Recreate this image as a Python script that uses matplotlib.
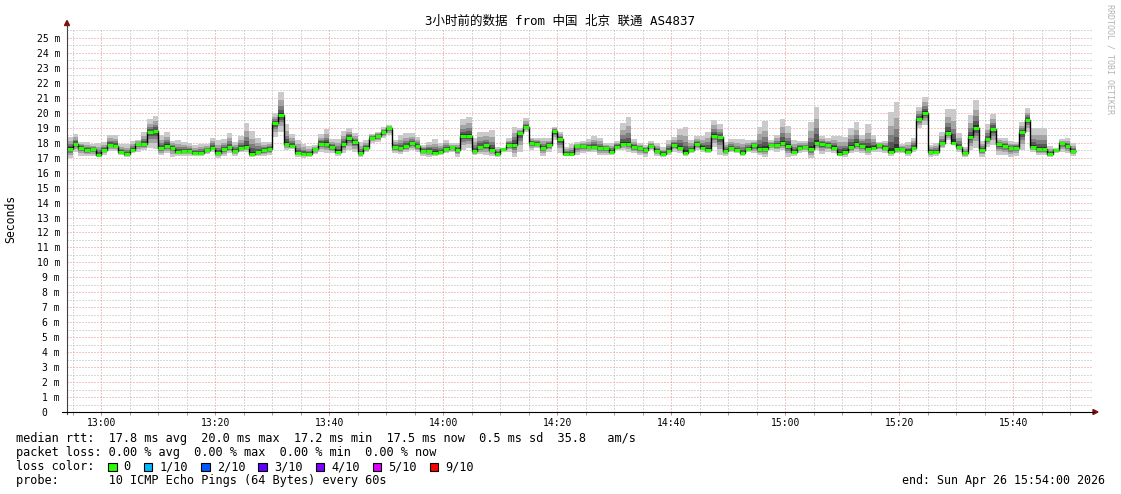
import numpy as np
import matplotlib.pyplot as plt
from matplotlib.lines import Line2D
from matplotlib.patches import Polygon, Rectangle

plt.rcParams['font.family'] = ['DejaVu Sans Mono', 'Noto Sans CJK SC']
plt.rcParams['lines.scale_dashes'] = False

# ---- data (1 sample per minute from 12:54) ----
start_time = "12:54"
time_labels = ["13:00", "13:20", "13:40", "14:00", "14:20",
               "14:40", "15:00", "15:20", "15:40"]

median_ms = [
    17.60, 17.93, 17.67, 17.51, 17.60, 17.20, 17.49, 17.87, 17.80, 17.40,
    17.24, 17.49, 17.89, 17.91, 18.69, 18.78, 17.62, 17.80, 17.67, 17.40,
    17.42, 17.42, 17.33, 17.33, 17.51, 17.67, 17.29, 17.56, 17.71, 17.42,
    17.62, 17.71, 17.24, 17.36, 17.49, 17.58, 19.29, 19.82, 17.93, 17.76,
    17.31, 17.27, 17.24, 17.56, 17.93, 17.93, 17.71, 17.40, 17.89, 18.33,
    18.02, 17.29, 17.62, 18.33, 18.47, 18.69, 18.96, 17.71, 17.62, 17.76,
    17.96, 17.76, 17.47, 17.47, 17.33, 17.40, 17.58, 17.69, 17.53, 18.47,
    18.47, 17.44, 17.71, 17.82, 17.53, 17.27, 17.56, 17.84, 17.84, 18.62,
    19.04, 18.00, 17.93, 17.62, 17.84, 18.76, 18.24, 17.27, 17.24, 17.76,
    17.78, 17.69, 17.69, 17.62, 17.64, 17.38, 17.73, 17.93, 17.89, 17.73,
    17.64, 17.51, 17.78, 17.42, 17.24, 17.47, 17.84, 17.67, 17.33, 17.51,
    17.91, 17.67, 17.51, 18.47, 18.38, 17.42, 17.62, 17.49, 17.31, 17.56,
    17.82, 17.56, 17.56, 17.82, 17.84, 17.98, 17.76, 17.40, 17.67, 17.71,
    17.58, 17.96, 17.91, 17.87, 17.67, 17.27, 17.38, 17.71, 17.91, 17.78,
    17.60, 17.67, 17.87, 17.67, 17.40, 17.58, 17.56, 17.38, 17.67, 19.58,
    20.00, 17.40, 17.40, 17.96, 18.62, 18.00, 17.71, 17.29, 18.36, 19.00,
    17.49, 18.22, 18.91, 17.89, 17.76, 17.62, 17.67, 18.69, 19.49, 17.73,
    17.58, 17.58, 17.24, 17.53, 17.96, 17.78, 17.44,
]

smoke_hi = [
    18.40, 18.58, 18.02, 18.02, 17.89, 17.96, 18.07, 18.51, 18.51, 17.89,
    17.89, 18.13, 18.18, 18.73, 19.56, 19.78, 18.51, 18.73, 18.11, 18.18,
    18.07, 18.00, 17.84, 17.89, 17.89, 18.33, 18.18, 18.24, 18.62, 18.07,
    18.47, 19.33, 18.78, 18.33, 18.07, 18.07, 19.96, 21.40, 19.24, 18.56,
    18.18, 17.91, 17.78, 17.84, 18.56, 18.91, 18.24, 18.24, 18.78, 18.96,
    18.62, 18.02, 18.18, 18.56, 18.73, 19.07, 19.18, 18.18, 18.51, 18.62,
    18.62, 18.40, 17.84, 18.07, 18.24, 17.96, 18.18, 17.96, 17.96, 19.56,
    19.73, 18.33, 18.73, 18.73, 18.84, 17.73, 17.62, 18.29, 19.07, 19.00,
    19.62, 18.33, 18.29, 18.33, 18.29, 19.07, 18.73, 17.73, 17.89, 18.02,
    18.11, 18.24, 18.47, 18.33, 17.96, 17.96, 18.11, 19.33, 19.71, 18.24,
    17.96, 17.84, 18.11, 17.96, 17.69, 18.18, 18.40, 18.91, 19.04, 18.18,
    18.47, 18.47, 18.73, 19.51, 19.22, 18.07, 18.24, 18.24, 18.24, 18.18,
    18.18, 19.07, 19.44, 18.18, 18.51, 19.58, 19.13, 18.18, 18.11, 18.11,
    19.36, 20.40, 18.47, 18.29, 18.47, 18.47, 18.40, 18.96, 19.36, 18.51,
    19.22, 18.51, 18.02, 18.11, 20.02, 20.69, 17.89, 18.07, 18.33, 20.40,
    21.07, 17.84, 17.96, 18.69, 20.24, 20.24, 18.62, 17.73, 19.84, 20.84,
    18.11, 19.22, 19.89, 18.33, 18.29, 18.11, 18.07, 19.36, 20.29, 18.96,
    19.00, 19.00, 17.80, 17.62, 18.24, 18.33, 17.96,
]

smoke_lo = [
    16.96, 17.40, 17.13, 17.09, 17.09, 17.09, 17.18, 17.47, 17.47, 17.18,
    17.04, 17.29, 17.40, 17.51, 17.62, 17.58, 17.18, 17.29, 17.07, 17.13,
    17.13, 17.13, 17.13, 17.13, 17.22, 17.40, 17.00, 17.13, 17.29, 17.13,
    17.40, 17.40, 17.07, 17.13, 17.13, 17.18, 18.40, 18.73, 17.51, 17.58,
    17.07, 17.00, 17.07, 17.22, 17.40, 17.29, 17.29, 17.13, 17.29, 17.51,
    17.40, 17.07, 17.40, 17.96, 18.02, 18.29, 18.51, 17.29, 17.22, 17.40,
    17.51, 17.40, 17.13, 17.07, 17.13, 17.18, 17.29, 17.36, 17.07, 17.51,
    17.62, 17.18, 17.22, 17.18, 17.13, 17.07, 17.40, 17.40, 17.07, 17.40,
    18.73, 17.51, 17.62, 17.13, 17.40, 18.18, 17.29, 17.13, 17.13, 17.18,
    17.29, 17.36, 17.40, 17.18, 17.18, 17.18, 17.51, 17.51, 17.40, 17.29,
    17.18, 17.07, 17.51, 17.13, 17.07, 17.18, 17.40, 17.29, 17.13, 17.29,
    17.51, 17.40, 17.29, 17.73, 17.18, 17.13, 17.40, 17.29, 17.13, 17.40,
    17.29, 17.18, 17.07, 17.51, 17.40, 17.51, 17.07, 17.13, 17.29, 17.40,
    17.00, 17.51, 17.22, 17.40, 17.29, 17.13, 17.07, 17.29, 17.40, 17.29,
    17.18, 17.40, 17.40, 17.29, 17.13, 17.29, 17.29, 17.13, 17.40, 18.96,
    19.18, 17.07, 17.13, 17.62, 18.18, 17.84, 17.40, 17.07, 17.51, 17.62,
    17.07, 17.73, 17.84, 17.18, 17.18, 17.07, 17.13, 17.51, 18.73, 17.40,
    17.18, 17.18, 17.07, 17.29, 17.40, 17.29, 17.13,
]

title = "3小时前的数据 from 中国 北京 联通 AS4837"
stats_lines = [
    "median rtt:  17.8 ms avg  20.0 ms max  17.2 ms min  17.5 ms now  0.5 ms sd  35.8   am/s",
    "packet loss: 0.00 % avg  0.00 % max  0.00 % min  0.00 % now",
    "loss color:",
    "probe:       10 ICMP Echo Pings (64 Bytes) every 60s",
]
loss_labels = ["0", "1/10", "2/10", "3/10", "4/10", "5/10", "9/10"]
loss_colors = ["#26ff00", "#00b8ff", "#0059ff", "#5e00ff", "#7e00ff", "#dd00ff", "#ff0000"]
end_text = "end: Sun Apr 26 15:54:00 2026"

# ---- layout helpers (pixel -> figure fraction) ----
W, H = 1121, 494


def fx(x):
    return x / W


def fy(y):
    return 1 - y / H


def hm(s):
    h, m = s.split(":")
    return int(h) * 60 + int(m)


fig = plt.figure(figsize=(W / 100, H / 100), dpi=100)
ax = fig.add_axes([fx(67), fy(412), fx(1093) - fx(67), fy(30.5) - fy(412)])
ax.set_xlim(0, 180)
ax.set_ylim(0, 25.5)
for s in ax.spines.values():
    s.set_visible(False)

# grid: red major, gray minor, dotted
t0 = hm(start_time)
major_x = [hm(t) - t0 for t in time_labels]
minor_x = np.arange(major_x[0] % 5, 180, 5)
ax.set_xticks(major_x)
ax.set_xticklabels(time_labels)
ax.set_xticks(minor_x, minor=True)
ax.set_yticks(np.arange(0, 26))
ax.set_yticklabels(["0  "] + [f"{v} m" for v in range(1, 26)])
ax.set_yticks(np.arange(0.5, 26, 1.0), minor=True)

dot = (0, (0.72, 1.44))
ax.grid(True, which='minor', color='#b4b4b4', linestyle=dot, linewidth=0.72)
ax.grid(True, which='major', color='#e88c8c', linestyle=dot, linewidth=0.72)
ax.set_axisbelow(True)

ax.tick_params(axis='x', which='both', length=2, width=0.7, color='#999999',
               labelsize=7, pad=2)
ax.tick_params(axis='y', which='both', length=0, labelsize=7, pad=5)

# smoke: nested gray bands, darkest nearest the median
med = np.array(median_ms)
hi = np.array(smoke_hi)
lo = np.array(smoke_lo)
edges = np.arange(len(med) + 1)
band_frac = [1.0, 0.66, 0.42, 0.25, 0.1]
band_col = ['#cacaca', '#a4a4a4', '#7e7e7e', '#585858', '#323232']
for f, c in zip(band_frac, band_col):
    ax.stairs(med + f * (hi - med), edges, baseline=med - f * (med - lo),
              fill=True, color=c, lw=0, antialiased=False, zorder=2)

# median: black steps, green (0 loss) horizontal bars
ax.stairs(med, edges, baseline=None, color='black', lw=1.0, zorder=3)
ax.hlines(med, edges[:-1], edges[1:], color=loss_colors[0], lw=2.2, zorder=4)

# axes with arrows
fig.add_artist(Line2D([fx(67), fx(67)], [fy(414), fy(25)], color='#404040', lw=0.8))
fig.add_artist(Line2D([fx(62), fx(1094)], [fy(412), fy(412)], color='black', lw=0.8))
fig.add_artist(Polygon([(fx(64.5), fy(25.5)), (fx(69.5), fy(25.5)), (fx(67), fy(20.5))],
                       closed=True, color='#7f1010'))
fig.add_artist(Polygon([(fx(1093), fy(409.5)), (fx(1093), fy(414.5)), (fx(1098), fy(412))],
                       closed=True, color='#7f1010'))

# texts
fig.text(fx(560), fy(21), title, ha='center', va='center', fontsize=9,
         family=['DejaVu Sans Mono', 'Noto Sans CJK SC'])
fig.text(fx(11), fy(219), "Seconds", rotation=90, ha='center', va='center', fontsize=8.3)
fig.text(fx(1110), fy(4), "RRDTOOL / TOBI OETIKER", rotation=270, ha='center', va='top',
         fontsize=6, color='#b4b4b4')

fs = 8.55
cw = fs / 72 * 100 * 0.602
x0 = 16.5
line_y = [438.5, 452.5, 466.5, 480.5]
for s, y in zip(stats_lines, line_y):
    fig.text(fx(x0), fy(y), s, ha='left', va='center', fontsize=fs)

col = 15
for lab, c in zip(loss_labels, loss_colors):
    lx = x0 + col * cw
    fig.add_artist(Rectangle((fx(lx - 15.5), fy(line_y[2] + 4.5)), fx(8.5), 8.5 / H,
                             facecolor=c, edgecolor='black', lw=0.8))
    fig.text(fx(lx), fy(line_y[2]), lab, ha='left', va='center', fontsize=fs)
    col += len(lab) + 4

fig.text(fx(1105), fy(480.5), end_text, ha='right', va='center', fontsize=8.4)

fig.savefig("out.png", dpi=100, facecolor='white')
